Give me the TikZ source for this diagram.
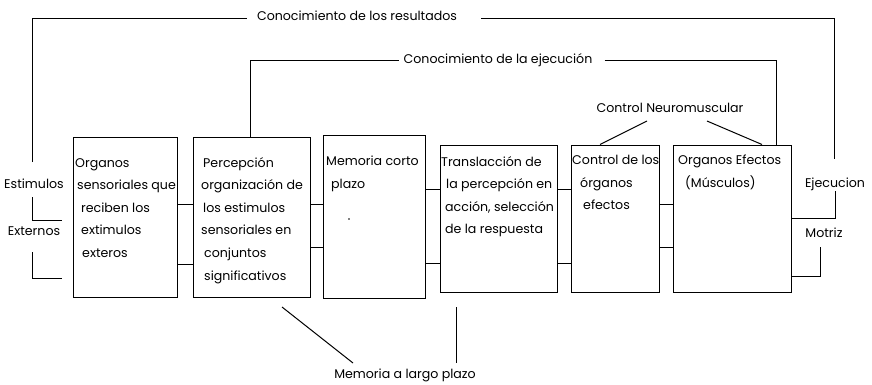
\documentclass[tikz,border=0pt]{standalone}
\usepackage{fontspec}
\setmainfont{Poppins}
\begin{document}
\begin{tikzpicture}[x=1pt,y=-1pt,
  box/.style={draw,line width=1pt,inner sep=0pt},
  txt/.style={inner sep=0pt,font=\fontsize{12.6}{22.6}\selectfont},
  btxt/.style={txt,align=left,anchor=north west},
  ln/.style={line width=1pt}]
\useasboundingbox (0,0) rectangle (872,384);
% boxes
\node[box,minimum width=104pt,minimum height=160pt] (b1) at (125,217) {};
\node[box,minimum width=117pt,minimum height=160pt] (b2) at (251.5,217) {};
\node[box,minimum width=102pt,minimum height=163pt] (b3) at (374,216.5) {};
\node[box,minimum width=117pt,minimum height=147pt] (b4) at (498.5,218.5) {};
\node[box,minimum width=88pt,minimum height=147pt] (b5) at (615,218.5) {};
\node[box,minimum width=118pt,minimum height=147pt] (b6) at (732,218.5) {};
% box texts
\node[btxt] (t1) at (75,158) {Organos\\\hspace*{2pt}sensoriales que\\\hspace*{6pt}reciben los\\\hspace*{6pt}extimulos\\\hspace*{7pt}exteros};
\node[btxt] (t2) at (201,157) {\hspace*{2pt}Percepción\\organización de\\\hspace*{2pt}los estimulos\\sensoriales en\\\hspace*{3pt}conjuntos\\\hspace*{3pt}significativos};
\node[btxt] (t3) at (326,156) {Memoria corto\\\hspace*{5pt}plazo};
\node[btxt] (t4) at (441,156) {Translacción de\\\hspace*{5pt}la percepción en\\\hspace*{4pt}acción, selección\\\hspace*{4pt}de la respuesta};
\node[btxt] (t5) at (572,155) {Control de los\\\hspace*{8pt}órganos\\\hspace*{11pt}efectos};
\node[btxt] (t6) at (678,155) {Organos Efectos\\\hspace*{7pt}(Músculos)};
\fill (349,219) circle (0.9pt);
% labels
\node[txt] (est) at (34,184) {Estimulos};
\node[txt] (ext) at (34,231) {Externos};
\node[txt] (kr) at (357,16) {Conocimiento de los resultados};
\node[txt] (ke) at (498,60) {Conocimiento de la ejecución};
\node[txt] (cn) at (670,108) {Control Neuromuscular};
\node[txt] (ml) at (405,375) {Memoria a largo plazo};
\node[txt] (ej) at (835,184) {Ejecucion};
\node[txt] (mo) at (824,233) {Motriz};
% coordinates
\coordinate (y18) at (0,18);
\coordinate (y60) at (0,60);
\coordinate (y189) at (0,189);
\coordinate (y204) at (0,204);
\coordinate (y247) at (0,247);
\coordinate (y263) at (0,263);
\coordinate (y264) at (0,264);
\coordinate (y218) at (0,218);
\coordinate (y276) at (0,276);
\coordinate (x250) at (250,0);
\coordinate (x776) at (776,0);
\coordinate (x600) at (600,0);
\coordinate (x762) at (762,0);
% inter-box connectors
\draw[ln] (b1.east |- y204) -- (b2.west |- y204);
\draw[ln] (b1.east |- y264) -- (b2.west |- y264);
\draw[ln] (b2.east |- y204) -- (b3.west |- y204);
\draw[ln] (b2.east |- y247) -- (b3.west |- y247);
\draw[ln] (b3.east |- y189) -- (b4.west |- y189);
\draw[ln] (b3.east |- y263) -- (b4.west |- y263);
\draw[ln] (b4.east |- y189) -- (b5.west |- y189);
\draw[ln] (b4.east |- y263) -- (b5.west |- y263);
\draw[ln] (b5.east |- y204) -- (b6.west |- y204);
\draw[ln] (b5.east |- y247) -- (b6.west |- y247);
% left input lines
\draw[ln] (32,162) -- (32,18) -- ([xshift=-10pt]kr.west |- y18);
\draw[ln] (32,197) -- (32,220) -- (62,220);
\draw[ln] (32,252) -- (32,278) -- (62,278);
% top loop
\draw[ln] ([xshift=24pt]kr.east |- y18) -- (834,18) -- (834,159);
\draw[ln] (b6.east |- y218) -- (835,218) -- (835,191);
\draw[ln] (b6.east |- y276) -- (820,276) -- (820,247);
% second loop
\draw[ln] (x250 |- b2.north) -- (250,60) -- ([xshift=-4pt]ke.west |- y60);
\draw[ln] ([xshift=12pt]ke.east |- y60) -- (776,60) -- (x776 |- b6.north);
% control neuromuscular
\draw[ln] (647,121) -- (x600 |- b5.north);
\draw[ln] (707,121) -- (x762 |- b6.north);
% memoria a largo plazo
\draw[ln] (282,307) -- (353,363);
\draw[ln] (456,307) -- (456,363);
\end{tikzpicture}
\end{document}
